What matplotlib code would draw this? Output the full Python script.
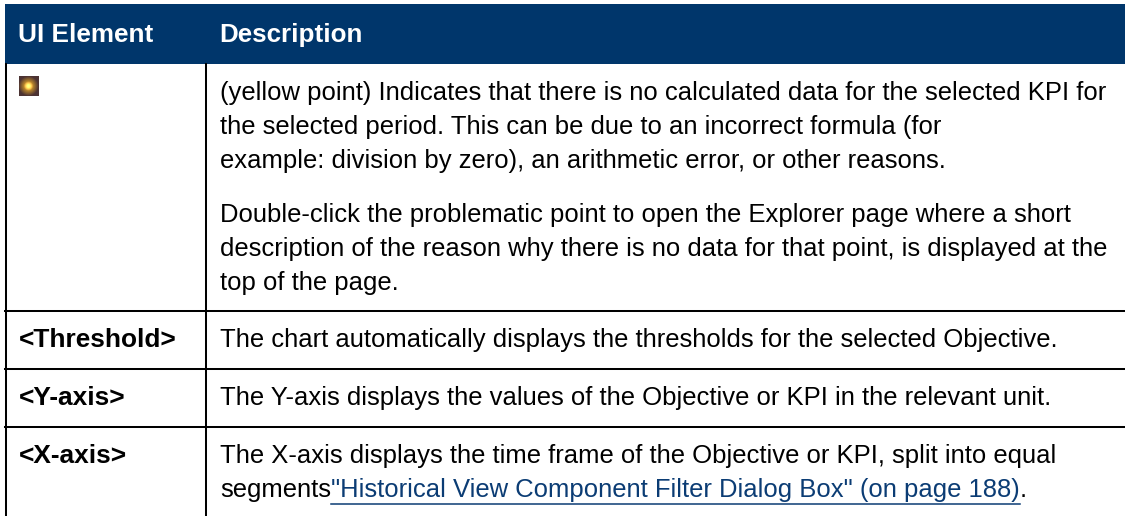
"""Table figure: historical view UI elements."""
import matplotlib
matplotlib.use("Agg")
import matplotlib.pyplot as plt
from matplotlib.patches import Rectangle
import numpy as np

W, H = 1125, 516
NAVY = "#00366B"
LINK = "#0B3C74"
FS = 18.45

plt.rcParams["font.family"] = ["Liberation Sans", "DejaVu Sans"]

HEADERS = ["UI Element", "Description"]
ELEMENTS = ["<Threshold>", "<Y-axis>", "<X-axis>"]
ROW_LINES = [
    ["(yellow point) Indicates that there is no calculated data for the selected KPI for",
     "the selected period. This can be due to an incorrect formula (for",
     "example: division by zero), an arithmetic error, or other reasons."],
    ["Double-click the problematic point to open the Explorer page where a short",
     "description of the reason why there is no data for that point, is displayed at the",
     "top of the page."],
    ["The chart automatically displays the thresholds for the selected Objective."],
    ["The Y-axis displays the values of the Objective or KPI in the relevant unit."],
    ["The X-axis displays the time frame of the Objective or KPI, split into equal"],
]
LINK_PREFIX = "segments"
LINK_TEXT = '"Historical View Component Filter Dialog Box" (on page 188)'

fig = plt.figure(figsize=(W / 100, H / 100), dpi=100)
ax = fig.add_axes([0, 0, 1, 1])
ax.set_xlim(0, W); ax.set_ylim(H, 0); ax.axis("off")

# header band
ax.add_patch(Rectangle((5, 4), W - 5, 60, color=NAVY, lw=0))
ax.text(18, 42, HEADERS[0], color="white", fontsize=18.8, fontweight="bold", va="baseline")
ax.text(219.5, 42, HEADERS[1], color="white", fontsize=18.7, fontweight="bold", va="baseline")

# grid
LW = 1.45
ax.plot([6, 6], [64, H], color="black", lw=LW)
ax.plot([206, 206], [64, H], color="black", lw=LW)
for y in [311, 369, 427]:
    ax.plot([5, W], [y, y], color="black", lw=LW)

# yellow point icon
xx, yy = np.meshgrid(np.linspace(-1, 1, 20), np.linspace(-1, 1, 20))
r = np.hypot(xx + 0.05, yy)
core = np.clip(1.15 - r / 0.9, 0, 1)[..., None]
icon = np.array([0.3, 0.2, 0.2]) * (1 - core) + np.array([0.98, 0.72, 0.15]) * core
icon = np.clip(icon + np.clip(1 - r / 0.5, 0, 1)[..., None] * 0.45, 0, 1)
ax.imshow(icon, extent=(19, 39, 96, 76), zorder=2, interpolation="bilinear", aspect="auto")
ax.set_xlim(0, W); ax.set_ylim(H, 0)

# description lines, placed by baseline
BASELINES = [[100, 134, 168], [222, 256, 290], [347], [405], [463]]
for lines, ys in zip(ROW_LINES, BASELINES):
    for line, y in zip(lines, ys):
        ax.text(220, y, line, fontsize=FS, va="baseline", color="black")
for label, ys in zip(ELEMENTS, BASELINES[2:]):
    ax.text(19, ys[0], label, fontsize=18.9, fontweight="bold", va="baseline", color="black")

# link line
y_link = 497
prefix = ax.text(220, y_link, LINK_PREFIX, fontsize=FS, va="baseline", color="black")
fig.canvas.draw()
x_link = ax.transData.inverted().transform(prefix.get_window_extent().max)[0]
link = ax.text(x_link, y_link, LINK_TEXT, fontsize=FS, va="baseline", color=LINK)
fig.canvas.draw()
x_end = ax.transData.inverted().transform(link.get_window_extent().max)[0]
ax.plot([x_link, x_end], [503.5, 503.5], color=LINK, lw=1.1)
ax.text(x_end, y_link, ".", fontsize=FS, va="baseline", color="black")

fig.savefig("out.png", dpi=100)
